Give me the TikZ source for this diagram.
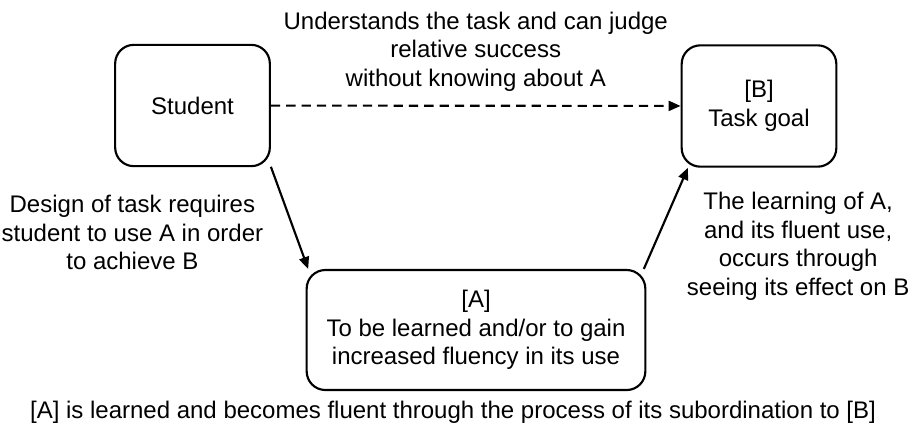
\documentclass[tikz,border=0pt]{standalone}
\usepackage{fontspec}
\setmainfont{Liberation Sans}
\usetikzlibrary{arrows.meta}

\begin{document}
\begin{tikzpicture}[-{Triangle[length=9pt,width=7.5pt]},x=0.75pt,y=-0.75pt,
    line width=1.6pt,
    every node/.style={font=\fontsize{18}{21.4}\selectfont,align=center},
    box node/.style={draw,rounded corners=14pt,inner sep=0pt}]
  \useasboundingbox (0,0) rectangle (912,430);
  \node[box node,minimum width=116pt,minimum height=91pt] (student) at (192.5,105.5) {Student};
  \node[box node,minimum width=116pt,minimum height=91pt] (goal) at (759,106) {[B]\\Task goal};
  \node[box node,minimum width=254pt,minimum height=90pt] (A) at (476,330) {[A]\\To be learned and/or to gain\\increased fluency in its use};
  \node (note) at (453,412) {[A] is learned and becomes fluent through the process of its subordination to [B]};

  \path[every node/.style={font=\fontsize{18}{21.4}\selectfont,align=center,inner sep=0pt}]
  (student) edge[dash pattern=on 7pt off 4.5pt] node[above=10pt] (understands) {Understands the task and can judge\\relative success\\without knowing about A} (goal)
  (student.-38) edge node[left=19pt,yshift=-11pt] (design) {Design of task requires\\student to use A in order\\to achieve B} (A.160)
  (A.20) edge node[right=15pt,yshift=-21pt] (learning) {The learning of A,\\and its fluent use,\\occurs through\\seeing its effect on B} (goal.221);
\end{tikzpicture}
\end{document}
